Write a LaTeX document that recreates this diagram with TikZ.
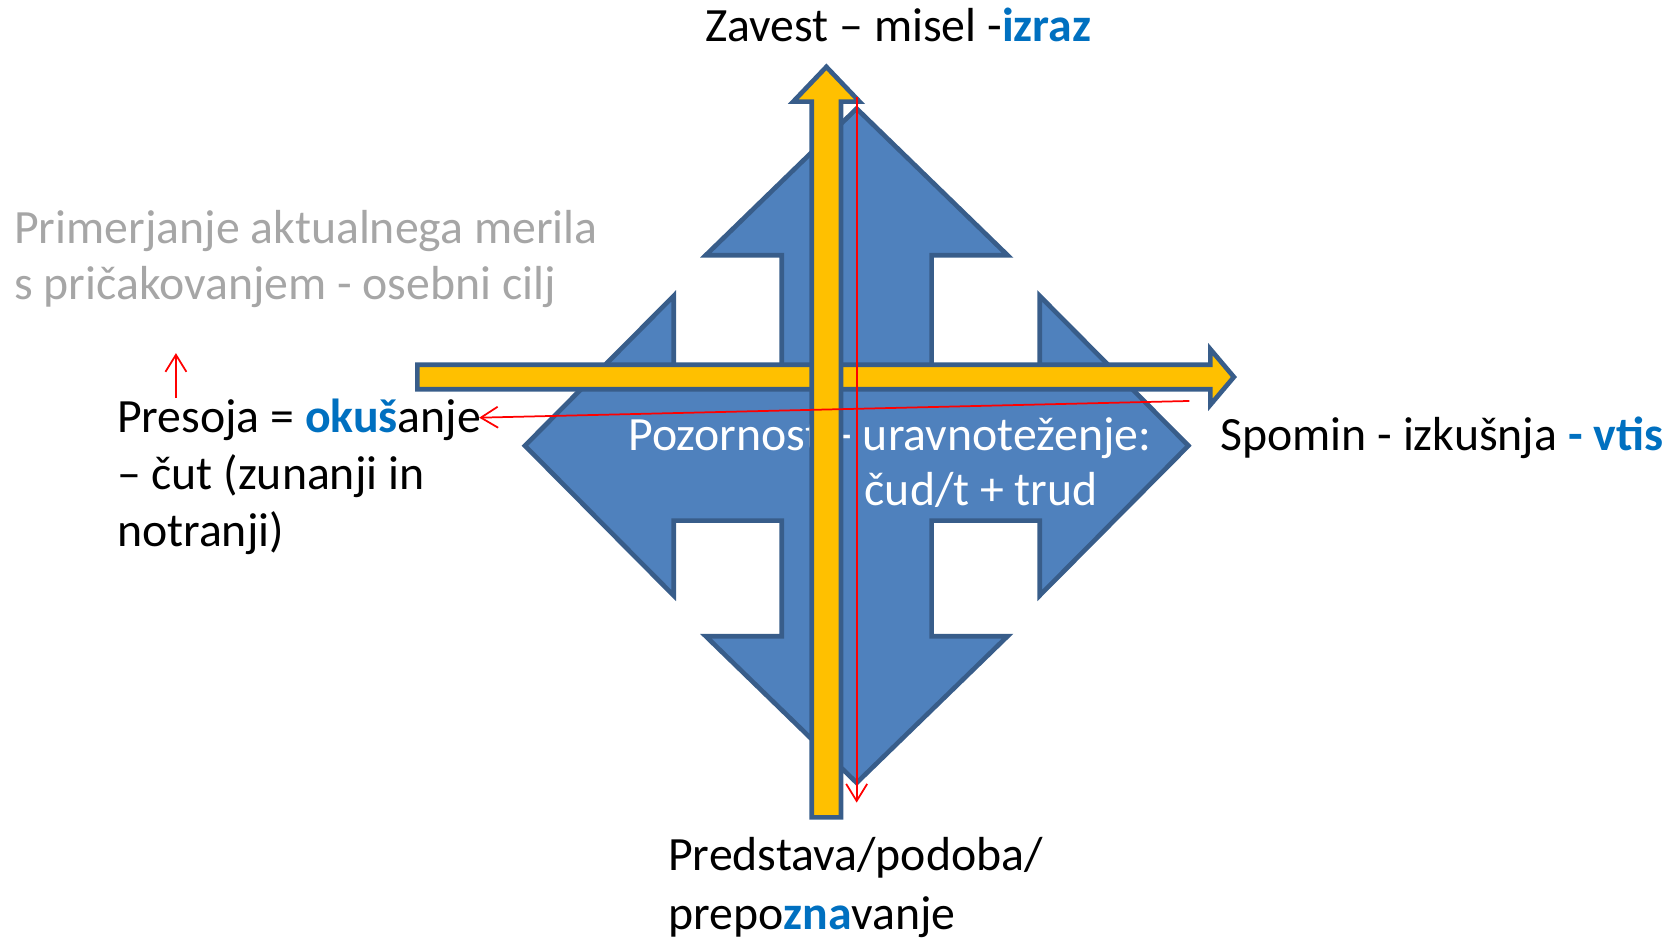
\documentclass[tikz,border=0pt]{standalone}
\usepackage{fontspec}
\setmainfont{Carlito}
\usetikzlibrary{arrows.meta}
\definecolor{qfill}{HTML}{4F81BD}
\definecolor{qline}{HTML}{385D8A}
\definecolor{ybar}{HTML}{FFC000}
\definecolor{hblue}{HTML}{0070C0}
\definecolor{gtext}{HTML}{A6A6A6}
\begin{document}
\begin{tikzpicture}[x=0.4592pt,y=-0.4592pt,
  shapeline/.style={draw=qline,line width=2pt,line join=miter},
  lbl/.style={inner sep=0pt,anchor=base west,align=left,font=\fontsize{20.5}{24.4}\selectfont},
  redarrow/.style={draw=red,line width=0.75pt,-{Straight Barb[length=7.3pt,width=9pt]}}]
\useasboundingbox (0,0) rectangle (1568,876);
% quad arrow
\begin{scope}[shift={(800.5,416.5)}]
\filldraw[shapeline,fill=qfill] (0,-315) -- (141,-178) -- (70,-178) -- (70,-70) -- (171,-70) -- (171,-140) -- (310,0) -- (171,140) -- (171,70) -- (70,70) -- (70,178) -- (141,178) -- (0,315) -- (-141,178) -- (-70,178) -- (-70,70) -- (-171,70) -- (-171,140) -- (-310,0) -- (-171,-140) -- (-171,-70) -- (-70,-70) -- (-70,-178) -- (-141,-178) -- cycle;
\end{scope}
\node[lbl,text=white] (pozA) at (587,421) {Pozornost\hspace{0.12em} - uravnoteženje:};
\node[lbl,text=white] (pozB) at (807.6,472.3) {čud/t + trud};
% horizontal yellow arrow
\filldraw[shapeline,fill=ybar] (390,340.8) -- (1131,340.8) -- (1131,326.3) -- (1153,352.3) -- (1131,378.3) -- (1131,363.8) -- (390,363.8) -- cycle;
% vertical yellow arrow
\filldraw[shapeline,fill=ybar] (758.5,763.8) -- (758.5,95) -- (741.2,95) -- (772.2,62.5) -- (803.2,95) -- (785.9,95) -- (785.9,763.8) -- cycle;
% texts
\node[lbl] (zavest) at (658.8,39) {Zavest – misel -\textcolor{hblue}{\textbf{izraz}}};
\node[lbl] (spomin) at (1140,421.4) {Spomin - izkušnja \textcolor{hblue}{\textbf{- vtis}}};
\node[lbl] (predstava) at (624,869) {Predstava/podoba/\\[1.3pt]prepo\textcolor{hblue}{\textbf{zna}}vanje};
\node[lbl] (presoja) at (109,510.6) {Presoja = \textcolor{hblue}{\textbf{okuš}}anje\\– čut (zunanji in\\notranji)};
\node[lbl,text=gtext] (primer) at (12.9,280.3) {Primerjanje aktualnega merila\\s pričakovanjem - osebni cilj};
% red arrows
\coordinate (rv1) at (800.5,91);
\coordinate (rv2) at (800.5,750);
\coordinate (rh1) at (1111.3,374.7);
\coordinate (rh2) at (447.8,390.3);
\coordinate (ru1) at (164.4,372);
\coordinate (ru2) at (164.4,330);
\draw[redarrow] (rv1) -- (rv2);
\draw[redarrow] (rh1) -- (rh2);
\draw[redarrow] (ru1) -- (ru2);
\end{tikzpicture}
\end{document}
